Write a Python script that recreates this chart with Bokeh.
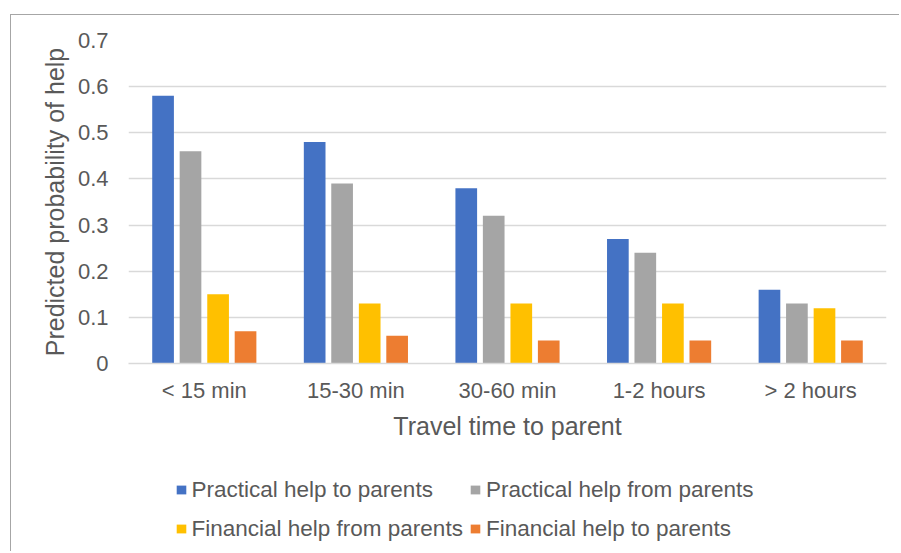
from bokeh.plotting import figure
from bokeh.layouts import column
from bokeh.models import (ColumnDataSource, FactorRange, Range1d, FixedTicker, Legend,
                          LegendItem)
from bokeh.transform import dodge
from bokeh.embed import file_html
from bokeh.resources import INLINE

categories = ["< 15 min", "15-30 min", "30-60 min", "1-2 hours", "> 2 hours"]
series_names = ["Practical help to parents", "Practical help from parents",
                "Financial help from parents", "Financial help to parents"]
practical_to = [0.58, 0.48, 0.38, 0.27, 0.16]
practical_from = [0.46, 0.39, 0.32, 0.24, 0.13]
financial_from = [0.15, 0.13, 0.13, 0.13, 0.12]
financial_to = [0.07, 0.06, 0.05, 0.05, 0.05]
y_ticks = [0, 0.1, 0.2, 0.3, 0.4, 0.5, 0.6, 0.7]

colors = ["#4472C4", "#A5A5A5", "#FFC000", "#ED7D31"]
offsets = [-0.272, -0.091, 0.091, 0.272]
keys = ["s0", "s1", "s2", "s3"]
FONT = "Liberation Sans"
TXT = "#595959"

source = ColumnDataSource(dict(cat=categories, s0=practical_to, s1=practical_from,
                               s2=financial_from, s3=financial_to))

# ---- main chart ----
p = figure(width=888, height=430, output_backend="svg", toolbar_location=None,
           x_range=FactorRange(*categories, range_padding=0), y_range=Range1d(0, 0.7),
           min_border_left=117, min_border_right=13, min_border_top=25, min_border_bottom=82)
p.outline_line_color = None
p.background_fill_color = "white"
p.border_fill_color = "white"

for i, key in enumerate(keys):
    p.vbar(x=dodge("cat", offsets[i], range=p.x_range), top=key, width=0.143,
           source=source, fill_color=colors[i], line_color=None)

p.xgrid.grid_line_color = None
p.ygrid.grid_line_color = "#d9d9d9"
p.ygrid.grid_line_width = 1.3

p.yaxis.ticker = FixedTicker(ticks=y_ticks)
p.yaxis.major_label_overrides = {0: "0"}
p.yaxis.axis_line_color = None
p.yaxis.major_tick_line_color = None
p.yaxis.minor_tick_line_color = None
p.yaxis.major_tick_out = 0
p.yaxis.major_tick_in = 0
p.yaxis.major_label_standoff = 20
p.yaxis.axis_label = "Predicted probability of help"
p.yaxis.axis_label_standoff = 6

p.xaxis.axis_line_color = "#d9d9d9"
p.xaxis.axis_line_width = 1.5
p.xaxis.major_tick_line_color = None
p.xaxis.minor_tick_line_color = None
p.xaxis.major_tick_out = 0
p.xaxis.major_tick_in = 0
p.xaxis.major_label_standoff = 14
p.xaxis.axis_label = "Travel time to parent"
p.xaxis.axis_label_standoff = 6

for ax in (p.xaxis[0], p.yaxis[0]):
    ax.major_label_text_font = FONT
    ax.major_label_text_font_size = "22px"
    ax.major_label_text_color = TXT
    ax.axis_label_text_font = FONT
    ax.axis_label_text_font_size = "25px"
    ax.axis_label_text_font_style = "normal"
    ax.axis_label_text_color = TXT

# ---- legend strip (same data, y range above the bars so only the legend shows) ----
p2 = figure(width=888, height=106, output_backend="svg", toolbar_location=None,
            x_range=p.x_range, y_range=Range1d(1, 2),
            x_axis_location=None, y_axis_location=None,
            min_border_left=0, min_border_right=0, min_border_top=0, min_border_bottom=0)
p2.outline_line_color = None
p2.background_fill_color = "white"
p2.border_fill_color = "white"
p2.xgrid.visible = False
p2.ygrid.visible = False

items = []
for i, key in enumerate(keys):
    r = p2.vbar(x=dodge("cat", offsets[i], range=p2.x_range), top=key, width=0.143,
                source=source, fill_color=colors[i], line_color=None)
    items.append(LegendItem(label=series_names[i], renderers=[r]))

legend = Legend(items=items, orientation="horizontal", ncols=2, location=(47, 6),
                margin=0, padding=0, spacing=6, label_standoff=5,
                glyph_width=12, glyph_height=11, label_height=33,
                border_line_color=None, background_fill_alpha=0,
                label_text_font=FONT, label_text_font_size="22.5px", label_text_color=TXT)
p2.add_layout(legend)

layout = column(p, p2, spacing=0,
                styles={"border-left": "1.5px solid #a6a6a6", "border-top": "1.5px solid #a6a6a6",
                        "margin-left": "9.5px", "margin-top": "14px"})

open("out.html", "w").write(file_html(layout, INLINE))
